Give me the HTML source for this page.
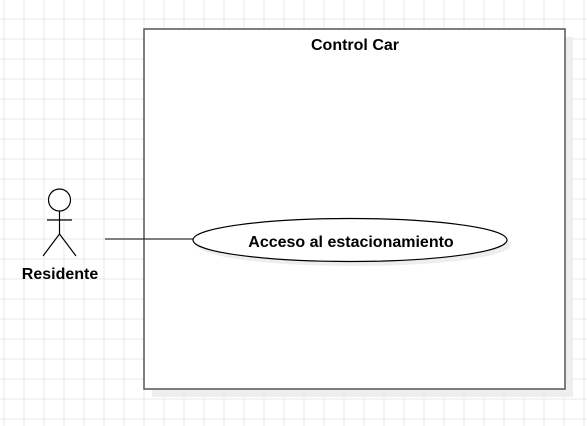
<!DOCTYPE html>
<html><head><meta charset="utf-8"><style>
html,body{margin:0;padding:0;background:#fff;}
svg{display:block;}
text{font-family:"Liberation Sans",Arial,sans-serif;font-weight:bold;font-size:16px;fill:#000;}
</style></head><body>
<svg width="587" height="426" viewBox="0 0 587 426" xmlns="http://www.w3.org/2000/svg">
<defs>
<pattern id="g" x="3.5" y="18.5" width="20" height="20" patternUnits="userSpaceOnUse">
<path d="M0 0H20M0 0V20" stroke="#e8e8e8" stroke-width="2" fill="none"/>
</pattern>
</defs>
<rect width="587" height="426" fill="url(#g)"/>
<rect x="152" y="37" width="421" height="360" fill="#eeeeee"/>
<rect x="144" y="29" width="421" height="360" fill="#fff" stroke="#555" stroke-width="1.5"/>
<text x="355" y="50" text-anchor="middle">Control Car</text>
<line x1="105" y1="239" x2="194" y2="239" stroke="#333" stroke-width="1.2"/>
<ellipse cx="354" cy="245" rx="157" ry="21" fill="#eeeeee"/>
<ellipse cx="350" cy="240" rx="157" ry="21.5" fill="#fff" stroke="#000" stroke-width="1.2"/>
<text x="351" y="247" text-anchor="middle">Acceso al estacionamiento</text>
<g stroke="#000" stroke-width="1.2" fill="#fff">
<circle cx="59.5" cy="200" r="11"/>
<line x1="59.5" y1="211" x2="59.5" y2="234"/>
<line x1="47" y1="220" x2="72" y2="220"/>
<line x1="59.5" y1="234" x2="43" y2="256"/>
<line x1="59.5" y1="234" x2="76" y2="256"/>
</g>
<text x="60" y="279" text-anchor="middle">Residente</text>
</svg>
</body></html>
